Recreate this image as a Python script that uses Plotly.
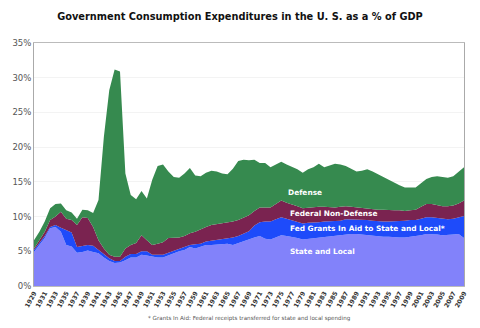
import plotly.graph_objects as go

years = list(range(1929, 2010))

state_local = [4.9, 5.9, 6.9, 8.3, 8.5, 7.8, 5.9, 5.7, 4.8, 4.9,
               5.1, 4.9, 4.7, 4.1, 3.6, 3.3, 3.4, 3.7, 4.1, 4.1,
               4.5, 4.4, 4.2, 4.1, 4.1, 4.4, 4.8, 5.0, 5.2, 5.6,
               5.4, 5.6, 5.9, 5.9, 6.0, 6.0, 6.1, 5.9, 6.2, 6.5,
               6.8, 7.0, 7.2, 6.8, 6.7, 7.0, 7.3, 7.2, 7.1, 6.9,
               6.7, 6.8, 6.9, 7.0, 7.1, 7.1, 7.2, 7.3, 7.5, 7.5,
               7.5, 7.4, 7.4, 7.3, 7.2, 7.1, 7.1, 7.0, 7.0, 7.0,
               7.1, 7.1, 7.3, 7.5, 7.5, 7.4, 7.3, 7.3, 7.4, 7.5,
               6.9]

fed_grants = [0.3, 0.3, 0.3, 0.2, 0.3, 0.6, 2.2, 2.0, 0.8, 0.8,
              0.8, 0.9, 0.5, 0.4, 0.4, 0.3, 0.2, 0.5, 0.5, 0.5,
              0.5, 0.6, 0.3, 0.4, 0.4, 0.4, 0.3, 0.3, 0.4, 0.3,
              0.6, 0.5, 0.5, 0.6, 0.6, 0.7, 0.8, 1.1, 1.0, 1.0,
              1.1, 1.7, 2.0, 2.5, 2.6, 2.6, 2.6, 2.5, 2.4, 2.3,
              2.3, 2.3, 2.2, 2.2, 2.2, 2.2, 2.1, 2.1, 2.1, 2.1,
              2.1, 2.1, 2.1, 2.1, 2.1, 2.2, 2.2, 2.3, 2.4, 2.4,
              2.4, 2.4, 2.4, 2.4, 2.4, 2.4, 2.3, 2.3, 2.3, 2.4,
              3.2]

fed_non_defense = [0.2, 0.4, 0.6, 1.0, 1.2, 2.3, 1.6, 1.8, 3.2, 4.2,
                   3.9, 2.7, 1.4, 0.9, 0.5, 0.6, 0.6, 1.2, 1.3, 1.6,
                   2.3, 1.6, 1.4, 1.6, 1.8, 2.1, 1.8, 1.7, 1.6, 1.7,
                   1.8, 2.1, 2.1, 2.3, 2.3, 2.3, 2.2, 2.3, 2.3, 2.3,
                   2.3, 2.1, 2.1, 2.0, 2.0, 2.2, 2.4, 2.3, 2.3, 2.3,
                   2.2, 2.2, 2.2, 2.2, 2.1, 2.0, 2.0, 2.0, 1.9, 1.8,
                   1.7, 1.7, 1.7, 1.7, 1.7, 1.7, 1.6, 1.6, 1.5, 1.4,
                   1.4, 1.5, 1.7, 1.9, 1.9, 1.8, 1.9, 1.9, 1.9, 2.0,
                   2.2]

defense = [1.2, 1.2, 1.5, 1.7, 1.8, 1.2, 1.2, 1.1, 0.9, 1.1,
           1.1, 2.0, 5.8, 16.1, 23.7, 27.0, 26.7, 10.8, 7.2, 6.3,
           6.4, 6.0, 9.4, 11.2, 11.2, 9.6, 8.8, 8.6, 9.0, 9.4,
           8.1, 7.6, 7.8, 7.8, 7.6, 7.2, 7.0, 7.6, 8.5, 8.4,
           7.9, 7.4, 6.4, 6.4, 5.8, 5.7, 5.6, 5.5, 5.4, 5.3,
           5.1, 5.5, 5.8, 6.2, 5.7, 6.0, 6.3, 6.1, 5.8, 5.5,
           5.2, 5.4, 5.6, 5.4, 5.1, 4.6, 4.4, 4.0, 3.6, 3.4,
           3.3, 3.2, 3.4, 3.6, 3.9, 4.2, 4.2, 4.1, 4.2, 4.6,
           4.8]

series_names = ["State and Local", "Fed Grants In Aid to State and Local*",
                "Federal Non-Defense", "Defense"]
series_values = [state_local, fed_grants, fed_non_defense, defense]
series_colors = ["#8282FA", "#1E4BFA", "#7A2350", "#368A4F"]

tick_years = list(range(1929, 2010, 2))
tick_labels = [str(y) for y in tick_years]
y_ticks = [0, 5, 10, 15, 20, 25, 30, 35]
y_labels = [f"{v}%" for v in y_ticks]

title_text = "Government Consumption Expenditures in the U. S. as a % of GDP"
footnote = "* Grants In Aid: Federal receipts transferred for state and local spending"

fig = go.Figure()
for name, vals, col in zip(series_names, series_values, series_colors):
    fig.add_trace(go.Scatter(
        x=years, y=vals, name=name, stackgroup="one", mode="lines",
        line=dict(width=0, color=col), fillcolor=col, hoverinfo="x+y+name"))

label_font = dict(family="DejaVu Sans", size=7.4, color="white")
label_pos = [(1975.9, 13.4, "Defense"), (1976.2, 10.4, "Federal Non-Defense"),
             (1976.2, 8.25, "Fed Grants In Aid to State and Local*"),
             (1976.2, 4.9, "State and Local")]
for lx, ly, txt in label_pos:
    fig.add_annotation(x=lx, y=ly, xref="x", yref="y", text=f"<b>{txt}</b>",
                       showarrow=False, xanchor="left", yanchor="middle",
                       font=label_font)

fig.add_annotation(x=0.5, y=-0.132, xref="paper", yref="paper", text=footnote,
                   showarrow=False, xanchor="center", yanchor="middle",
                   font=dict(family="DejaVu Sans", size=5.6, color="#555555"))

fig.update_layout(
    width=480, height=328,
    margin=dict(l=32, r=14, t=43, b=42),
    paper_bgcolor="white", plot_bgcolor="white",
    showlegend=False,
    title=dict(text=f"<b>{title_text}</b>", x=0.5, xanchor="center",
               y=1 - 17 / 328, yanchor="middle",
               font=dict(family="DejaVu Sans", size=9.8, color="#111111")),
    xaxis=dict(range=[1929, 2009], tickmode="array", tickvals=tick_years,
               ticktext=[f"<b>{t}</b>" for t in tick_labels], tickangle=-62,
               tickfont=dict(family="DejaVu Sans", size=6.3, color="#333333"),
               showgrid=False, showline=True, linecolor="#bbbbbb", mirror=True,
               ticks="", zeroline=False),
    yaxis=dict(range=[0, 35], tickmode="array", tickvals=y_ticks, ticktext=y_labels,
               tickfont=dict(family="DejaVu Sans", size=8.5, color="#555555"),
               showgrid=True, gridcolor="#f3f3f3", showline=True,
               linecolor="#aaaaaa", mirror=True, ticks="", zeroline=False),
)

fig.write_html("out.html")
